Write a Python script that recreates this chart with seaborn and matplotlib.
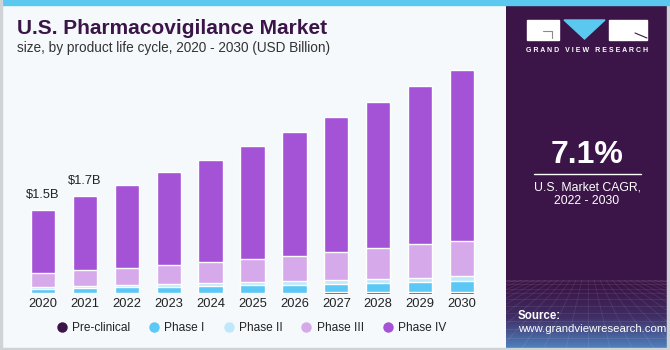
import numpy as np
import pandas as pd
import matplotlib.pyplot as plt
import seaborn as sns
from matplotlib.lines import Line2D
from matplotlib.patches import Rectangle, Polygon
from matplotlib.colors import LinearSegmentedColormap

# --- data (USD Billion) ---
years = ['2020', '2021', '2022', '2023', '2024', '2025', '2026', '2027', '2028', '2029', '2030']
pre_clinical = [0.012, 0.013, 0.015, 0.017, 0.020, 0.022, 0.025, 0.027, 0.030, 0.032, 0.035]
phase_1 = [0.080, 0.095, 0.110, 0.115, 0.120, 0.130, 0.135, 0.147, 0.165, 0.180, 0.195]
phase_2 = [0.030, 0.030, 0.030, 0.045, 0.050, 0.055, 0.070, 0.078, 0.072, 0.078, 0.083]
phase_3 = [0.25, 0.28, 0.31, 0.34, 0.37, 0.41, 0.45, 0.50, 0.54, 0.59, 0.62]
phase_4 = [1.11, 1.31, 1.47, 1.65, 1.82, 2.00, 2.19, 2.38, 2.60, 2.80, 3.03]
value_labels = ['$1.5B', '$1.7B']

segments = ['Pre-clinical', 'Phase I', 'Phase II', 'Phase III', 'Phase IV']
colors = ['#3b1547', '#5bc8f5', '#bfe9fb', '#d5a9ea', '#a452d6']

df = pd.DataFrame({'year': years, 'Pre-clinical': pre_clinical, 'Phase I': phase_1,
                   'Phase II': phase_2, 'Phase III': phase_3, 'Phase IV': phase_4})
cum = df[segments].cumsum(axis=1)
cum['year'] = df['year']

BG = '#f5f9fc'
PURPLE = '#3b1547'

sns.set_style('white')
plt.rcParams['font.family'] = ['Liberation Sans', 'DejaVu Sans']

fig = plt.figure(figsize=(6.7, 3.5), dpi=100)
fig.patch.set_facecolor(BG)

# --- main chart ---
ax = fig.add_axes([22 / 670, 56 / 350, 461 / 670, 254 / 350])
ax.set_facecolor('none')
# stacked bars: draw cumulative totals, tallest first
for seg, col in reversed(list(zip(segments, colors))):
    sns.barplot(data=cum, x='year', y=seg, color=col, width=0.58, saturation=1,
                errorbar=None, ax=ax)
ax.set_xlim(-0.5, 10.5)
ax.set_ylim(0, 4.5)
ax.set_yticks([])
ax.set_xlabel('')
ax.set_ylabel('')
sns.despine(ax=ax, left=True, bottom=True)
ax.tick_params(axis='x', length=0, pad=3, labelsize=9.3, labelcolor='#222222')

totals = cum['Phase IV'].values
for i, lab in enumerate(value_labels):
    ax.text(i, totals[i] + 0.27, lab.replace('$', r'\$'), ha='center', va='center',
            fontsize=9.3, color='#222222')

# --- title ---
fig.text(17 / 670, 1 - 29 / 350, 'U.S. Pharmacovigilance Market', fontsize=15,
         fontweight='bold', color=PURPLE, va='center', ha='left')
fig.text(17 / 670, 1 - 48 / 350, 'size, by product life cycle, 2020 - 2030 (USD Billion)',
         fontsize=9.8, color='#333333', va='center', ha='left')

# --- legend ---
handles = [Line2D([0], [0], marker='o', linestyle='', markersize=6.5, markerfacecolor=c,
                  markeredgecolor=c) for c in colors]
fig.legend(handles, segments, loc='center', bbox_to_anchor=(251 / 670, 1 - 328 / 350),
           ncol=5, frameon=False, fontsize=8.6, handlelength=1, handletextpad=0.35,
           columnspacing=1.5, labelcolor='#222222')

# --- frame lines ---
fig.add_artist(Rectangle((0, 0), 1, 2 / 350, transform=fig.transFigure,
                         color='#cfd3d6', zorder=5))
fig.add_artist(Rectangle((0, 1 - 5 / 350), 1, 5 / 350, transform=fig.transFigure,
                         color='#5bc8ef', zorder=5))
fig.add_artist(Rectangle((0, 0), 1.5 / 670, 1, transform=fig.transFigure,
                         color='#cfd3d6', zorder=5))

# --- right side panel ---
axp = fig.add_axes([506 / 670, 2 / 350, 164 / 670, 343 / 350])
axp.set_xlim(506, 670)
axp.set_ylim(348, 5)
axp.axis('off')
cmap = LinearSegmentedColormap.from_list('panel', [PURPLE, PURPLE, '#3f2d63', '#4f7fbc'])
ramp = np.concatenate([np.zeros(250), np.linspace(0, 0.33, 30), np.linspace(0.33, 1, 63)])
axp.imshow(ramp[:, None], extent=(506, 670, 348, 5), aspect='auto', cmap=cmap,
           vmin=0, vmax=1, zorder=0)
# faint perspective mesh at the bottom
for k in range(12):
    yy = 280 + 68 * (k / 11) ** 1.6
    axp.plot([506, 670], [yy, yy], color='white', alpha=0.09, lw=0.6)
for k in range(-14, 15):
    axp.plot([588 + k * 6, 588 + k * 22], [280, 348], color='white', alpha=0.09, lw=0.6)
axp.add_patch(Rectangle((667, 5), 3, 345, color='#cfd3d6', zorder=3))

# logo
axp.add_patch(Rectangle((527, 20), 32, 20, color='white', zorder=2))
axp.add_patch(Rectangle((609, 20), 38, 20, color='white', zorder=2))
axp.add_patch(Polygon([(564, 20), (605, 20), (584.5, 39)], color='#5bc8ef', zorder=2))
axp.plot([543, 552, 552], [31, 31, 38], color='#8a8a8a', lw=0.8, zorder=3)
axp.plot([635, 647], [33, 38], color=PURPLE, lw=0.8, zorder=3)
axp.text(587, 51, 'G R A N D   V I E W   R E S E A R C H', color='white', fontsize=5.0,
         fontweight='bold', ha='center', va='center')

axp.text(587, 155, '7.1%', color='white', fontsize=23, fontweight='bold',
         ha='center', va='center')
axp.plot([534, 641], [173.5, 173.5], color='white', lw=1)
axp.text(587, 187, 'U.S. Market CAGR,', color='white', fontsize=8.8, ha='center', va='center')
axp.text(587, 201, '2022 - 2030', color='white', fontsize=8.8, ha='center', va='center')
axp.text(518, 316, 'Source:', color='white', fontsize=8.3, fontweight='bold',
         ha='left', va='center')
axp.text(518, 329, 'www.grandviewresearch.com', color='white', fontsize=8.2,
         ha='left', va='center')

fig.savefig('out.png', dpi=100, facecolor=BG)
